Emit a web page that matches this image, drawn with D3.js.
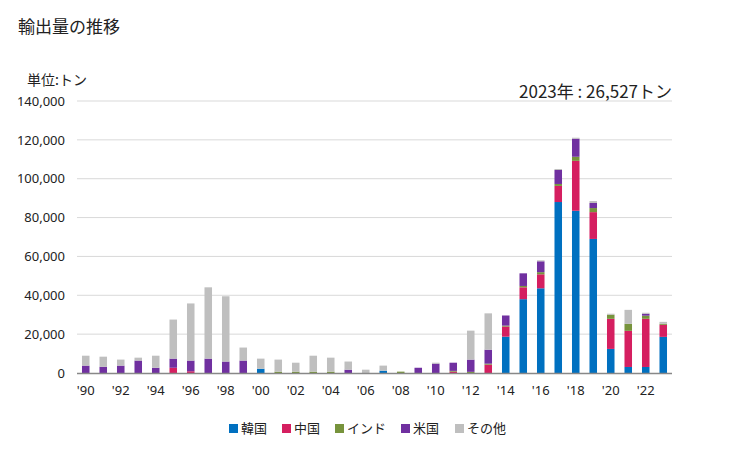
<!DOCTYPE html>
<html><head><meta charset="utf-8">
<script src="https://cdn.jsdelivr.net/npm/d3@7"></script>
<style>body{margin:0;background:#fff;font-family:"Noto Sans CJK JP","Noto Sans",sans-serif;}</style>
</head><body><svg id="c" width="729" height="450"></svg>
<script>
const years = d3.range(1990, 2024);
const seriesNames = ["韓国","中国","インド","米国","その他"];
const colors = ["#0070c0","#d51f60","#77933c","#7030a0","#bfbfbf"];
const korea = [0,0,0,0,0,0,0,0,0,0, 2200,0,0,0,0,0,0,1200,0,0, 0,0,0,0,18700,38000,43600,88000,83500,69000, 12400,3100,3100,18600];
const china = [0,0,0,0,0,2700,900,0,0,0, 0,0,0,0,0,0,0,0,0,0, 0,700,0,4300,5200,6100,7200,8300,25700,13800, 15500,18600,24800,6200];
const india = [0,0,0,0,0,0,0,0,0,0, 0,700,700,700,700,0,0,0,700,0, 0,400,600,500,500,700,1100,1000,2100,2100, 2100,3600,1600,500];
const usa = [3800,3200,3800,6400,2700,4700,5500,7400,5900,6400, 0,0,0,0,0,1700,0,0,0,2700, 4800,4200,6300,7200,5200,6500,5600,7200,9300,2600, 0,0,1000,0];
const other = [5100,5200,3100,1500,6200,20100,29400,36700,33600,6700, 5200,6200,4600,8200,7200,4200,1700,2600,0,0, 500,0,14900,18700,0,0,500,500,500,1000, 500,7200,500,1027];
const yTicks = [0,20000,40000,60000,80000,100000,120000,140000];
const xTickYears = d3.range(1990, 2024, 2);

const svg = d3.select("#c");
const m = {l:77, r:672, t:101, b:373};
const x = d3.scaleBand().domain(years).range([m.l, m.r]).paddingInner(0.57).paddingOuter(0.285);
const y = d3.scaleLinear().domain([0,140000]).range([m.b, m.t]);

svg.append("text").attr("x",18).attr("y",33).attr("font-size",17).attr("fill","#222").text("輸出量の推移");
svg.append("text").attr("x",27).attr("y",85).attr("font-size",14).attr("fill","#222").text("単位:トン");
svg.append("text").attr("x",672).attr("y",98).attr("text-anchor","end").attr("font-size",17).attr("fill","#222").text("2023年 : 26,527トン");

svg.append("g").selectAll("line").data(yTicks.filter(d=>d>0)).join("line")
  .attr("x1",m.l).attr("x2",m.r).attr("y1",d=>y(d)).attr("y2",d=>y(d))
  .attr("stroke","#d9d9d9").attr("stroke-width",1);

const yAxis = d3.axisLeft(y).tickValues(yTicks).tickSize(0).tickPadding(12).tickFormat(d3.format(","));
const ga = svg.append("g").attr("transform",`translate(${m.l},0)`).call(yAxis);
ga.select(".domain").remove();
ga.selectAll("text").attr("font-size",13).attr("fill","#222").attr("font-family","'Noto Sans','DejaVu Sans',sans-serif");

const table = years.map((yr,i)=>({year:yr, "韓国":korea[i], "中国":china[i], "インド":india[i], "米国":usa[i], "その他":other[i]}));
const stack = d3.stack().keys(seriesNames)(table);
svg.append("g").selectAll("g").data(stack).join("g").attr("fill",(d,i)=>colors[i])
  .selectAll("rect").data(d=>d.filter(p=>p[1]-p[0]>0)).join("rect")
  .attr("x",d=>x(d.data.year)).attr("width",x.bandwidth())
  .attr("y",d=>y(d[1])).attr("height",d=>y(d[0])-y(d[1]));

svg.append("line").attr("x1",m.l).attr("x2",m.r).attr("y1",m.b+0.5).attr("y2",m.b+0.5).attr("stroke","#888").attr("stroke-width",1.3);

const xAxis = d3.axisBottom(x).tickValues(xTickYears).tickSize(0).tickPadding(13).tickFormat(d=>"'"+String(d).slice(2));
const gx = svg.append("g").attr("transform",`translate(0,${m.b})`).call(xAxis);
gx.select(".domain").remove();
gx.selectAll("text").attr("font-size",13).attr("fill","#222").attr("font-family","'Noto Sans','DejaVu Sans',sans-serif");

const legX = [229,282,335,401,455];
const lg = svg.append("g").selectAll("g").data(seriesNames).join("g").attr("transform",(d,i)=>`translate(${legX[i]},423)`);
lg.append("rect").attr("width",9).attr("height",9).attr("y",1).attr("fill",(d,i)=>colors[i]);
lg.append("text").attr("x",12).attr("y",9.5).attr("font-size",13).attr("fill","#222").text(d=>d);
</script></body></html>
